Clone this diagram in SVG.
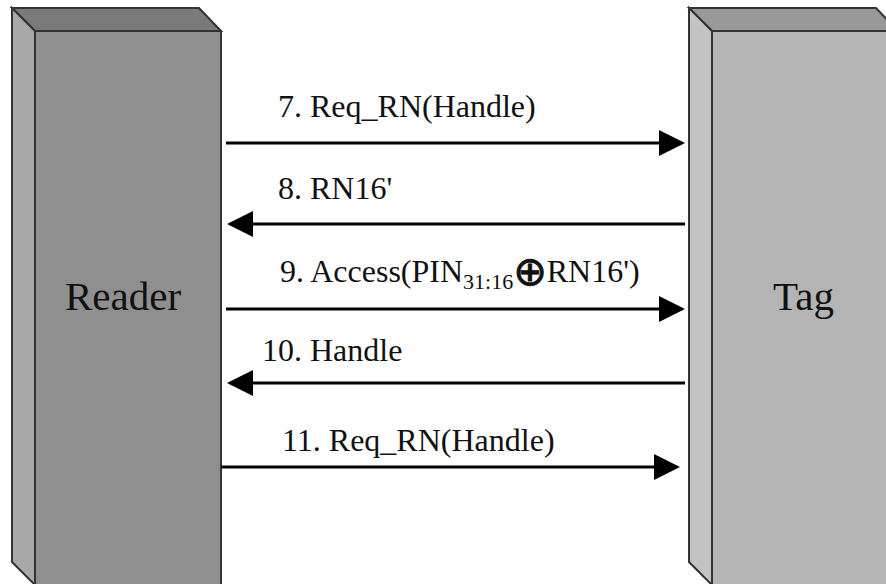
<svg xmlns="http://www.w3.org/2000/svg" width="886" height="584" viewBox="0 0 886 584">
  <style>
    .edge { stroke: #333333; stroke-width: 2; stroke-linejoin: miter; }
    .name { font-family: "Liberation Serif", "Times New Roman", serif; font-size: 41px; fill: #111111; }
    .msg { font-family: "Liberation Serif", "Times New Roman", serif; font-size: 32px; fill: #111111; }
    .xor { font-family: "DejaVu Sans", sans-serif; font-size: 40px; stroke: #111111; stroke-width: 0.9; }
    .wire { stroke: #000000; stroke-width: 3; fill: none; marker-end: url(#head); }
  </style>
  <defs>
    <marker id="head" viewBox="0 0 26 26" refX="23" refY="13" markerUnits="userSpaceOnUse" markerWidth="26" markerHeight="26" orient="auto">
      <path d="M0,0 L26,13 L0,26 Z" fill="#000000"/>
    </marker>
  </defs>
  <rect width="886" height="584" fill="#ffffff"/>

  <!-- Reader block -->
  <g id="reader">
    <polygon class="edge" points="12,8 199,8 221,31 35,31" fill="#7a7a7a"/>
    <polygon class="edge" points="12,8 35,31 35,585 12,562" fill="#a8a8a8"/>
    <rect class="edge" x="35" y="31" width="186" height="554" fill="#8f8f8f"/>
    <text class="name" x="65" y="310">Reader</text>
  </g>

  <!-- Tag block -->
  <g id="tag">
    <polygon class="edge" points="689,8 876,8 898,31 712,31" fill="#999999"/>
    <polygon class="edge" points="689,8 712,31 712,585 689,562" fill="#c3c3c3"/>
    <rect class="edge" x="712" y="31" width="186" height="554" fill="#b4b4b4"/>
    <text class="name" x="773" y="310">Tag</text>
  </g>

  <!-- message arrows -->
  <g id="connectors">
    <line class="wire" x1="226" y1="143" x2="682" y2="143"/>
    <line class="wire" x1="685" y1="224" x2="230" y2="224"/>
    <line class="wire" x1="226" y1="309" x2="682" y2="309"/>
    <line class="wire" x1="685" y1="383" x2="230" y2="383"/>
    <line class="wire" x1="221" y1="467" x2="677" y2="467"/>
  </g>

  <!-- message labels -->
  <g id="labels">
    <text class="msg" x="278" y="117">7. Req_RN(Handle)</text>
    <text class="msg" x="278" y="199">8. RN16'</text>
    <text class="msg" x="280" y="282">9. Access(PIN<tspan font-size="22" dy="7">31:16</tspan><tspan class="xor" dy="-4">⊕</tspan><tspan dy="-3">RN16')</tspan></text>
    <text class="msg" x="262" y="361">10. Handle</text>
    <text class="msg" x="282" y="451">11. Req_RN(Handle)</text>
  </g>
</svg>
